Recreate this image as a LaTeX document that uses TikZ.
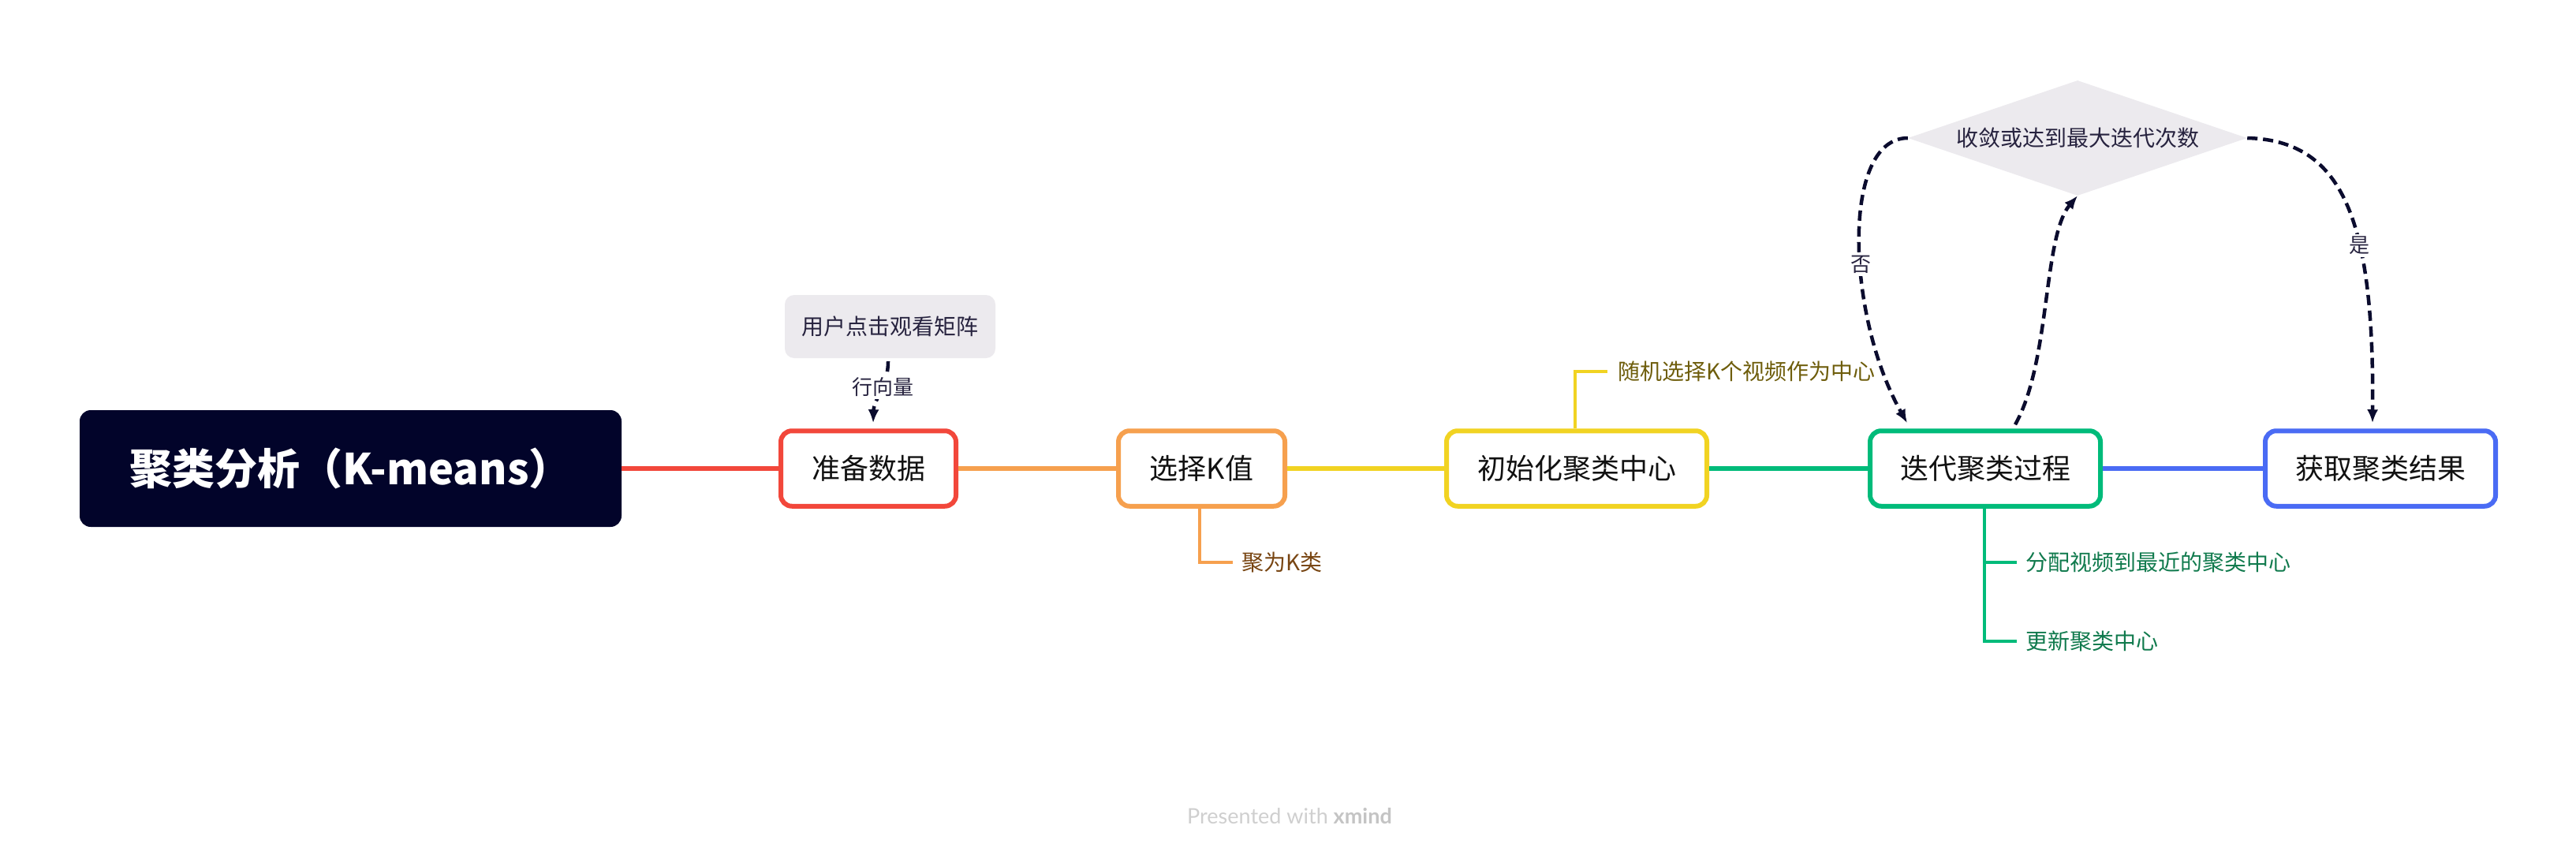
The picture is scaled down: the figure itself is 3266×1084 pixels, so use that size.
\documentclass[tikz,border=0pt]{standalone}
\usepackage{fontspec}
\newfontfamily\cjk{Noto Sans CJK SC}
\newfontfamily\wmfont{Lato}
\usetikzlibrary{arrows.meta,shapes.geometric}
\definecolor{cred}{HTML}{F2473B}
\definecolor{corange}{HTML}{F6A04E}
\definecolor{cyellow}{HTML}{F1D322}
\definecolor{cgreen}{HTML}{00BB7A}
\definecolor{cblue}{HTML}{4A6BF4}
\definecolor{rootfill}{HTML}{02042A}
\definecolor{softfill}{HTML}{ECEAEE}
\definecolor{navytext}{HTML}{27233F}
\definecolor{arrowc}{HTML}{0B0C2E}
\definecolor{boxtext}{HTML}{111111}
\definecolor{browntext}{HTML}{784512}
\definecolor{olivetext}{HTML}{6E5D0B}
\definecolor{greentext}{HTML}{107A4D}
\definecolor{wmgray}{HTML}{CFCFCF}
\definecolor{wmbold}{HTML}{C4C4C4}
\begin{document}
\begin{tikzpicture}[x=1pt,y=-1pt,
  rootbox/.style={fill=rootfill, rounded corners=14pt, inner sep=0pt, text=white,
    font=\cjk\bfseries\fontsize{54}{60}\selectfont},
  mainbox/.style={draw, line width=6pt, fill=white, rounded corners=14pt, inner sep=0pt,
    minimum height=95.5pt, text=boxtext, font=\cjk\fontsize{36}{42}\selectfont},
  mainline/.style={line width=6pt},
  subline/.style={line width=4pt},
  subtext/.style={anchor=west, inner xsep=11pt, inner ysep=2pt, font=\cjk\fontsize{28}{32}\selectfont},
  softbox/.style={fill=softfill, rounded corners=12pt, inner sep=0pt, text=navytext,
    font=\cjk\fontsize{28}{32}\selectfont},
  flowarrow/.style={draw=arrowc, line width=4.5pt, dash pattern=on 13pt off 7pt,
    -{Latex[length=17pt,width=14pt]}},
  flowlabel/.style={fill=white, inner sep=3pt, text=navytext, font=\cjk\fontsize{26}{30}\selectfont}
]
\fill[white] (0,0) rectangle (3266,1084);
\useasboundingbox (0,0) rectangle (3266,1084);

% main nodes
\node[rootbox, minimum width=687pt, minimum height=148pt] (root) at (444.5,594) {聚类分析（K-means）};
\node[mainbox, draw=cred, minimum width=222pt] (prep) at (1101,594) {准备数据};
\node[mainbox, draw=corange, minimum width=211pt] (sel) at (1523.5,594) {选择K值};
\node[mainbox, draw=cyellow, minimum width=330pt] (init) at (1999,594) {初始化聚类中心};
\node[mainbox, draw=cgreen, minimum width=292pt] (iter) at (2517,594) {迭代聚类过程};
\node[mainbox, draw=cblue, minimum width=292pt] (res) at (3018,594) {获取聚类结果};

% main connectors
\draw[mainline, cred] (root.east) -- (prep.west);
\draw[mainline, corange] (prep.east) -- (sel.west);
\draw[mainline, cyellow] (sel.east) -- (init.west);
\draw[mainline, cgreen] (init.east) -- (iter.west);
\draw[mainline, cblue] (iter.east) -- (res.west);

% sub topics
\node[subtext, text=browntext] (kcls) at (1563,713) {聚为K类};
\draw[subline, corange] ([xshift=-2.5pt]sel.south) |- (kcls.west);
\node[subtext, text=olivetext, inner xsep=13pt] (rand) at (2038,471) {随机选择K个视频作为中心};
\draw[subline, cyellow] ([xshift=-2pt]init.north) |- (rand.west);
\node[subtext, text=greentext] (assign) at (2557,713) {分配视频到最近的聚类中心};
\node[subtext, text=greentext] (update) at (2557,813) {更新聚类中心};
\draw[subline, cgreen] ([xshift=-1pt]iter.south) |- (assign.west);
\draw[subline, cgreen] ([xshift=-1pt]iter.south) |- (update.west);

% callout
\node[softbox, minimum width=267pt, minimum height=80pt] (call) at (1128.5,414) {用户点击观看矩阵};
\draw[flowarrow] ([xshift=-2.5pt,yshift=-4pt]call.south) .. controls +(0,32) and +(1,-31) ..
  node[flowlabel, pos=0.4] {行向量} ([xshift=6pt,yshift=7pt]prep.north);

% decision
\node[diamond, aspect=2.945, minimum width=430pt, minimum height=146pt, inner sep=0pt,
  fill=softfill, text=navytext, font=\cjk\fontsize{28}{32}\selectfont] (dec) at (2634,175) {收敛或达到最大迭代次数};
\draw[flowarrow] (dec.west) .. controls +(-84,0) and +(-78,-138) ..
  node[flowlabel, pos=0.57] {否} ([xshift=-99pt,yshift=7pt]iter.north);
\draw[flowarrow] ([xshift=38pt,yshift=5pt]iter.north) .. controls +(45,-80) and +(-44,52) .. (dec.south);
\draw[flowarrow] (dec.east) .. controls +(126,3) and +(2,-248) ..
  node[flowlabel, pos=0.62] {是} ([xshift=-10pt,yshift=7pt]res.north);

% watermark
\node[text=wmgray, font=\wmfont\fontsize{27}{30}\selectfont] (wm) at (1635,1035) {Presented with {\bfseries\color{wmbold}xmind}};
\end{tikzpicture}
\end{document}
